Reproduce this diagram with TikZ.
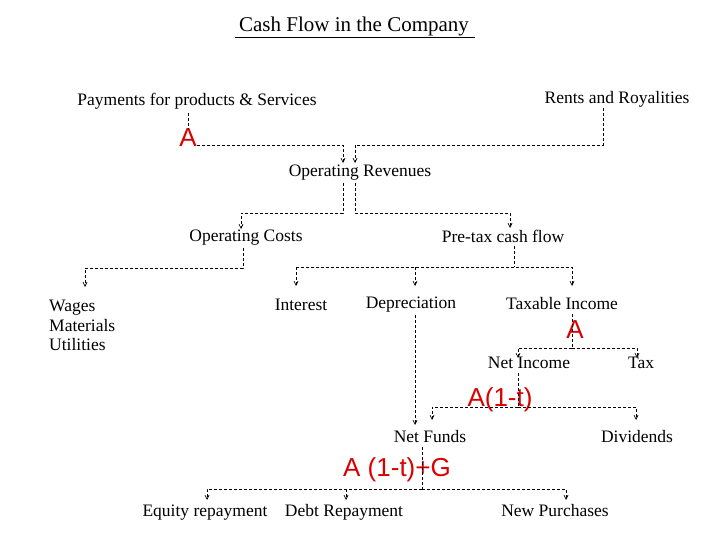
\documentclass[tikz,border=0pt]{standalone}
\usepackage{fontspec}
\setmainfont{Liberation Serif}
\newfontfamily\lsans{Liberation Sans}
\usetikzlibrary{arrows.meta}
\begin{document}
\begin{tikzpicture}[x=1pt,y=-1pt,
  t/.style={font=\fontsize{17.5}{19}\selectfont,inner sep=1pt},
  red/.style={font=\lsans\fontsize{26}{28}\selectfont,text=red!85!black,inner sep=0pt},
  ln/.style={dashed,dash pattern=on 3pt off 2pt,line width=0.7pt},
  ar/.style={ln,-{Straight Barb[length=4pt,width=4pt]}}]
\useasboundingbox (0,0) rectangle (720,540);
\node[t,font=\fontsize{21}{23}\selectfont] (title) at (354,26) {Cash Flow in the Company};
\draw[line width=0.7pt] (235,37) -- (475,37);
\node[t] (pay) at (197,101) {Payments for products \& Services};
\node[t] (rent) at (617,99) {Rents and Royalities};
\node[t] (or) at (360,173) {Operating Revenues};
\node[t] (oc) at (246,238) {Operating Costs};
\node[t] (pt) at (503,236) {Pre-tax cash flow};
\node[t,anchor=west] (wag) at (48,308) {Wages};
\node[t,anchor=west] (mat) at (48,326) {Materials};
\node[t,anchor=west] (uti) at (48,345) {Utilities};
\node[t] (int) at (301,305) {Interest};
\node[t] (dep) at (411,305) {Depreciation};
\node[t] (ti) at (562,304) {Taxable Income};
\node[t] (ni) at (529,363) {Net Income};
\node[t] (tax) at (641,363) {Tax};
\node[t] (nf) at (430,437) {Net Funds};
\node[t] (div) at (637,437) {Dividends};
\node[t] (eq) at (205,513) {Equity repayment};
\node[t] (debt) at (344,512) {Debt Repayment};
\node[t] (np) at (555,511) {New Purchases};
\node[red] (a1) at (188,138) {A};
\node[red] (a2) at (575,330) {A};
\node[red] (a3) at (500,400) {A(1-t)};
\node[red] (a4) at (397,470) {A (1-t)+G};
\coordinate (c1) at (188,113);
\draw[ln] (c1) -- (a1.north);
\draw[ar] (a1.east |- 0,145) -- (343,145) -- (343,163);
\draw[ar] (rent.south -| 603,0) -- (603,145) -- (355,145) -- (355,163);
\draw[ar] (343,183) -- (343,213) -- (241,213) -- (241,229);
\draw[ar] (355,183) -- (355,213) -- (510,213) -- (510,228);
\draw[ar] (243,248) -- (243,268) -- (85,268) -- (85,287);
\draw[ln] (514,246) -- (514,267);
\draw[ar] (296,267) -- (296,286);
\draw[ar] (296,267) -- (572,267) -- (572,286);
\draw[ar] (415,267) -- (415,286);
\draw[ln] (572,314) -- (572,348);
\draw[ar] (572,348) -- (518,348) -- (518,358);
\draw[ar] (572,348) -- (637,348) -- (637,358);
\draw[ln] (518,373) -- (518,407);
\draw[ar] (518,407) -- (432,407) -- (432,420);
\draw[ar] (518,407) -- (636,407) -- (636,420);
\draw[ar] (415,315) -- (415,425);
\draw[ln] (422,447) -- (422,489);
\draw[ar] (422,489) -- (207,489) -- (207,500);
\draw[ar] (346,489) -- (346,500);
\draw[ar] (422,489) -- (566,489) -- (566,500);
\end{tikzpicture}
\end{document}
